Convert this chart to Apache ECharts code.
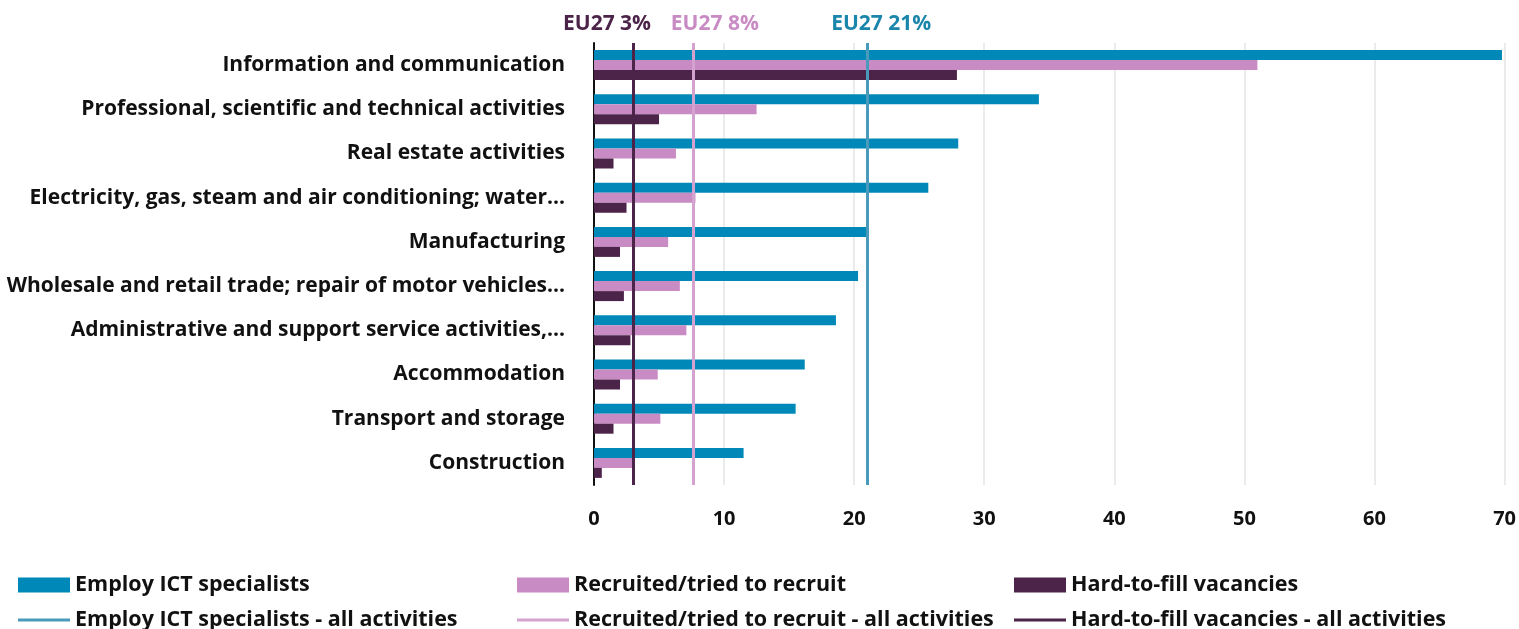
<!DOCTYPE html>
<html>
<head>
<meta charset="utf-8">
<script src="https://cdn.jsdelivr.net/npm/echarts@6/dist/echarts.min.js"></script>
<style>
  html, body { margin: 0; padding: 0; background: #fff; }
  #chart { width: 1519px; height: 629px; }
</style>
</head>
<body>
<div id="chart"></div>
<script>
const categories = [
    'Information and communication',
    'Professional, scientific and technical activities',
    'Real estate activities',
    'Electricity, gas, steam and air conditioning; water...',
    'Manufacturing',
    'Wholesale and retail trade; repair of motor vehicles...',
    'Administrative and support service activities,...',
    'Accommodation',
    'Transport and storage',
    'Construction'
];

const employIct = [69.8, 34.2, 28.0, 25.7, 21.1, 20.3, 18.6, 16.2, 15.5, 11.5];
const recruited = [51.0, 12.5, 6.3, 7.8, 5.7, 6.6, 7.1, 4.9, 5.1, 3.0];
const hardToFill = [27.9, 5.0, 1.5, 2.5, 2.0, 2.3, 2.8, 2.0, 1.5, 0.6];

// EU27 averages across all activities
const allEmploy = 21;
const allRecruited = 7.6;
const allHard = 3;
const refLabels = ['EU27 21%', 'EU27 8%', 'EU27 3%'];

const xTicks = { min: 0, max: 70, interval: 10 };

const BLUE = '#0088b8';
const PINK = '#c98bc4';
const DARK = '#4d2449';
const BLUE_LINE = '#4a9bbb';
const PINK_LINE = '#d3a2cf';
const DARK_LINE = '#4d2449';
const FONT = 'Open Sans';

const chart = echarts.init(document.getElementById('chart'));

const refLine = (name, value, label, color, lineColor, offsetX) => ({
    name: name,
    type: 'line',
    symbol: 'none',
    data: [],
    lineStyle: { color: lineColor, width: 3 },
    itemStyle: { color: lineColor },
    markLine: {
        silent: true,
        symbol: 'none',
        lineStyle: { color: lineColor, width: 3, type: 'solid' },
        label: {
            show: true,
            position: 'start',
            formatter: label,
            color: color,
            fontFamily: FONT,
            fontWeight: 'bold',
            fontSize: 21,
            distance: 8,
            offset: [offsetX, 0]
        },
        data: [{ xAxis: value }]
    }
});

const legendText = { color: '#111', fontFamily: FONT, fontWeight: 'bold', fontSize: 21.5 };
const legendItem = (left, top, name, color, isLine) => ({
    left: left,
    top: top,
    padding: 0,
    itemWidth: 52,
    itemHeight: isLine ? 3 : 15,
    textStyle: legendText,
    data: [{ name: name, icon: 'rect', itemStyle: { color: color } }]
});

chart.setOption({
    animation: false,
    grid: { left: 594, right: 11, top: 43, bottom: 144 },
    legend: [
        legendItem(18, 574, 'Employ ICT specialists', BLUE, false),
        legendItem(18, 609, 'Employ ICT specialists - all activities', BLUE_LINE, true),
        legendItem(517, 574, 'Recruited/tried to recruit', PINK, false),
        legendItem(517, 609, 'Recruited/tried to recruit - all activities', PINK_LINE, true),
        legendItem(1014, 574, 'Hard-to-fill vacancies', DARK, false),
        legendItem(1014, 609, 'Hard-to-fill vacancies - all activities', DARK_LINE, true)
    ],
    xAxis: {
        type: 'value',
        min: xTicks.min,
        max: xTicks.max,
        interval: xTicks.interval,
        axisLine: { show: false },
        axisTick: { show: false },
        axisLabel: {
            color: '#111',
            fontFamily: FONT,
            fontWeight: 'bold',
            fontSize: 20,
            margin: 24
        },
        splitLine: { lineStyle: { color: '#e4e4e4', width: 1.5 } }
    },
    yAxis: {
        type: 'category',
        inverse: true,
        data: categories,
        axisLine: { lineStyle: { color: '#111', width: 2 } },
        axisTick: { length: 6, lineStyle: { color: '#111', width: 1.5 } },
        axisLabel: {
            color: '#111',
            fontFamily: FONT,
            fontWeight: 'bold',
            fontSize: 21,
            margin: 29
        }
    },
    series: [
        { name: 'Employ ICT specialists', type: 'bar', data: employIct, barWidth: 10, barGap: '0%', itemStyle: { color: BLUE } },
        { name: 'Recruited/tried to recruit', type: 'bar', data: recruited, barWidth: 10, barGap: '0%', itemStyle: { color: PINK } },
        { name: 'Hard-to-fill vacancies', type: 'bar', data: hardToFill, barWidth: 10, barGap: '0%', itemStyle: { color: DARK } },
        refLine('Employ ICT specialists - all activities', allEmploy, refLabels[0], '#1a86ab', BLUE_LINE, 14),
        refLine('Recruited/tried to recruit - all activities', allRecruited, refLabels[1], '#c98bc4', PINK_LINE, 22),
        refLine('Hard-to-fill vacancies - all activities', allHard, refLabels[2], DARK, DARK_LINE, -26)
    ]
});
</script>
</body>
</html>
